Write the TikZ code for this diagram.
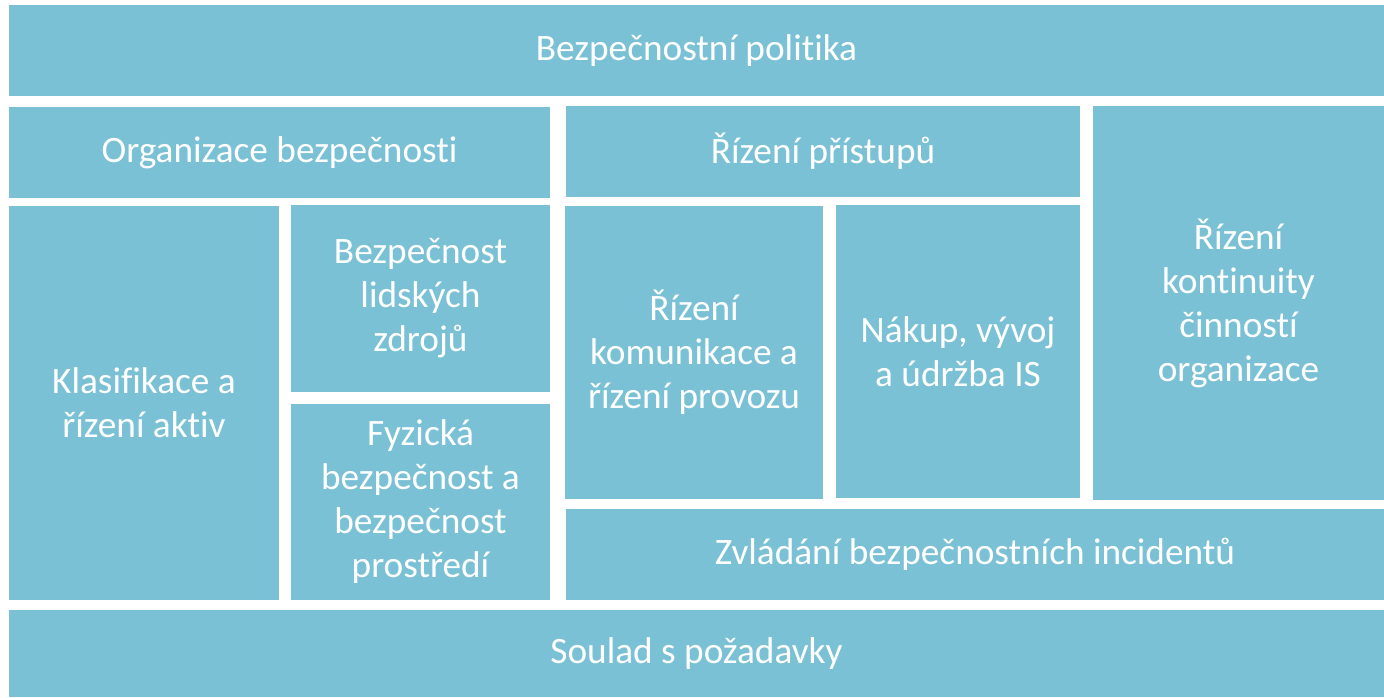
\documentclass[tikz,border=0pt]{standalone}
\usepackage{fontspec}
\setmainfont[Ligatures=NoCommon]{Carlito}
\begin{document}
\begin{tikzpicture}[x=1pt,y=-1pt,
  box/.style={fill=boxblue,draw=none,inner sep=0pt,outer sep=0pt,
    text=white,align=center,font=\fontsize{37.3}{44}\selectfont},
]
\definecolor{boxblue}{HTML}{7AC1D5}
\useasboundingbox (0,0) rectangle (1384,697);
\newcommand{\bx}[6]{%
  \node[box,minimum width={#4-#2},minimum height={#5-#3}] (#1) at ({(#2+#4)/2},{(#3+#5)/2}) {#6};}
\bx{pol}{9}{5}{1384}{96}{Bezpečnostní politika}
\bx{org}{9}{107}{550}{198}{Organizace bezpečnosti}
\bx{pri}{566}{106}{1080}{197}{Řízení přístupů}
\bx{kon}{1093}{106}{1384}{500}{Řízení\\kontinuity\\činností\\organizace}
\bx{kla}{9}{206}{279}{600}{Klasifikace a\\řízení aktiv}
\bx{lid}{291}{205}{550}{392}{Bezpečnost\\lidských\\zdrojů}
\bx{fyz}{291}{404}{550}{600}{Fyzická\\bezpečnost a\\bezpečnost\\prostředí}
\bx{kom}{565}{206}{823}{499}{Řízení\\komunikace a\\řízení provozu}
\bx{nak}{836}{205}{1080}{498}{Nákup, vývoj\\a údržba IS}
\bx{zvl}{566}{509}{1384}{600}{Zvládání bezpečnostních incidentů}
\bx{sou}{9}{610}{1384}{697}{Soulad s požadavky}
\end{tikzpicture}
\end{document}
